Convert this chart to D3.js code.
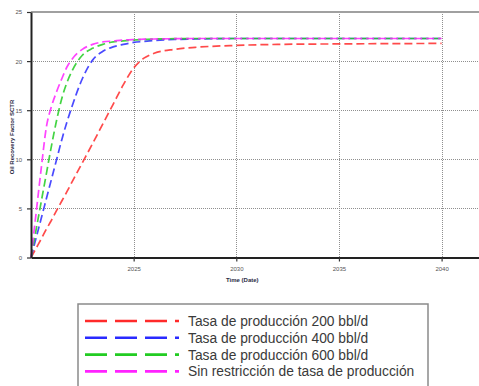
<!DOCTYPE html>
<html>
<head>
<meta charset="utf-8">
<script src="https://cdn.jsdelivr.net/npm/d3@7/dist/d3.min.js"></script>
<style>
  html, body { margin: 0; padding: 0; background: #fff; }
  svg { display: block; }
</style>
</head>
<body>
<svg id="chart" width="479" height="386"></svg>
<script>
// Sample dates (decimal years) shared by all simulation runs
const years = [2020, 2020.25, 2020.5, 2020.75, 2021, 2021.25, 2021.5, 2021.75, 2022, 2022.5,
  2023, 2023.5, 2024, 2024.5, 2025, 2025.5, 2026, 2027, 2028, 2030, 2032, 2035, 2040];

// Oil recovery factor (%) for each production-rate case
const rate200 = [0, 0.95, 1.9, 2.9, 3.8, 4.8, 5.75, 6.7, 7.7, 9.65,
  11.6, 13.6, 15.6, 17.6, 19.3, 20.3, 20.8, 21.2, 21.4, 21.6, 21.7, 21.75, 21.8];
const rate400 = [0, 2.0, 4.0, 6.0, 8.0, 10.0, 12.0, 13.8, 15.4, 18.2,
  20.1, 21.0, 21.45, 21.7, 21.9, 22.0, 22.1, 22.2, 22.25, 22.3, 22.3, 22.3, 22.3];
const rate600 = [0, 2.85, 5.7, 8.55, 11.4, 14.0, 16.2, 17.8, 19.0, 20.6,
  21.3, 21.7, 21.95, 22.05, 22.15, 22.2, 22.25, 22.28, 22.3, 22.3, 22.3, 22.3, 22.3];
const unrestricted = [0, 4.55, 9.1, 13.3, 15.4, 16.9, 18.2, 19.4, 20.2, 21.2,
  21.7, 21.95, 22.05, 22.15, 22.2, 22.23, 22.25, 22.28, 22.3, 22.3, 22.3, 22.3, 22.3];

const seriesNames = [
  "Tasa de producción 200 bbl/d",
  "Tasa de producción 400 bbl/d",
  "Tasa de producción 600 bbl/d",
  "Sin restricción de tasa de producción"
];
const seriesValues = [rate200, rate400, rate600, unrestricted];
const seriesColors = ["#ff2a2a", "#2a2aff", "#22cc22", "#ff22ff"];

const xTicks = [2025, 2030, 2035, 2040];
const yTicks = [0, 5, 10, 15, 20, 25];

const svg = d3.select("#chart");

const plot = { left: 31, right: 479, top: 12, bottom: 257.5 };

const x = d3.scaleLinear()
  .domain([2020, 2020 + (plot.right - plot.left) / 20.53])
  .range([plot.left, plot.right]);
const y = d3.scaleLinear().domain([0, 25]).range([plot.bottom, plot.top]);

const px = v => Math.round(v) + 0.5;

// Dotted grid
const grid = svg.append("g").attr("shape-rendering", "crispEdges");
grid.selectAll("line.gx").data(xTicks).join("line")
  .attr("x1", d => px(x(d))).attr("x2", d => px(x(d)))
  .attr("y1", plot.top).attr("y2", plot.bottom)
  .attr("stroke", "#8f8f8f").attr("stroke-width", 1)
  .attr("stroke-dasharray", "1,1");
grid.selectAll("line.gy").data(yTicks.filter(t => t > 0 && t < 25)).join("line")
  .attr("x1", plot.left).attr("x2", plot.right)
  .attr("y1", d => px(y(d))).attr("y2", d => px(y(d)))
  .attr("stroke", "#8f8f8f").attr("stroke-width", 1)
  .attr("stroke-dasharray", "1,1");

// Top frame
svg.append("line")
  .attr("x1", plot.left).attr("x2", plot.right)
  .attr("y1", plot.top).attr("y2", plot.top)
  .attr("stroke", "#a0a0a0").attr("stroke-width", 2);

// Curves
const line = d3.line()
  .x((d, i) => x(years[i]))
  .y(d => y(d))
  .curve(d3.curveMonotoneX);

svg.append("g").selectAll("path").data(seriesValues).join("path")
  .attr("d", d => line(d))
  .attr("fill", "none")
  .attr("stroke", (d, i) => seriesColors[i])
  .attr("stroke-width", 1.7)
  .attr("stroke-dasharray", "8,4")
  .attr("opacity", 0.85);

// Axes
const xAxis = svg.append("g")
  .attr("transform", `translate(0,${plot.bottom})`)
  .call(d3.axisBottom(x).tickValues(xTicks).tickFormat(d3.format("d")).tickSize(4).tickSizeOuter(0));
const yAxis = svg.append("g")
  .attr("transform", `translate(${plot.left},0)`)
  .call(d3.axisLeft(y).tickValues(yTicks).tickFormat(d3.format("d")).tickSize(4).tickSizeOuter(0));

[xAxis, yAxis].forEach(g => {
  g.select(".domain").attr("stroke", "#222").attr("stroke-width", 2);
  g.selectAll(".tick line").attr("stroke", "#333").attr("stroke-width", 1.2);
  g.selectAll(".tick text")
    .attr("fill", "#555")
    .style("font-family", "Liberation Sans, Arial, sans-serif")
    .style("font-size", "6px");
});
xAxis.selectAll(".tick text").attr("dy", "1.1em");
yAxis.selectAll(".tick text").attr("dx", "-0.3em");

// Axis titles
svg.append("text")
  .attr("x", x(2030) + 6).attr("y", 282)
  .attr("text-anchor", "middle")
  .attr("fill", "#2a2a44")
  .style("font-family", "Liberation Sans, Arial, sans-serif")
  .style("font-size", "6px").style("font-weight", "bold")
  .text("Time (Date)");

svg.append("text")
  .attr("transform", "translate(14,137) rotate(-90)")
  .attr("text-anchor", "middle")
  .attr("fill", "#2a2a44")
  .style("font-family", "Liberation Sans, Arial, sans-serif")
  .style("font-size", "6px").style("font-weight", "bold")
  .text("Oil Recovery Factor SCTR");

// Legend
const legend = svg.append("g");
legend.append("rect")
  .attr("x", 78).attr("y", 304).attr("width", 350).attr("height", 100)
  .attr("fill", "#fff").attr("stroke", "#8a8a8a").attr("stroke-width", 1.5);

const rows = legend.selectAll("g.row").data(seriesNames).join("g")
  .attr("transform", (d, i) => `translate(0,${321 + i * 16.8})`);
rows.append("line")
  .attr("x1", 85).attr("x2", 179).attr("y1", 0).attr("y2", 0)
  .attr("stroke", (d, i) => seriesColors[i])
  .attr("stroke-width", 2.6)
  .attr("stroke-dasharray", "22,8");
rows.append("text")
  .attr("x", 188).attr("y", 5)
  .attr("fill", "#3a3a3a")
  .style("font-family", "Liberation Sans, Arial, sans-serif")
  .style("font-size", "13.8px")
  .text(d => d);
</script>
</body>
</html>
